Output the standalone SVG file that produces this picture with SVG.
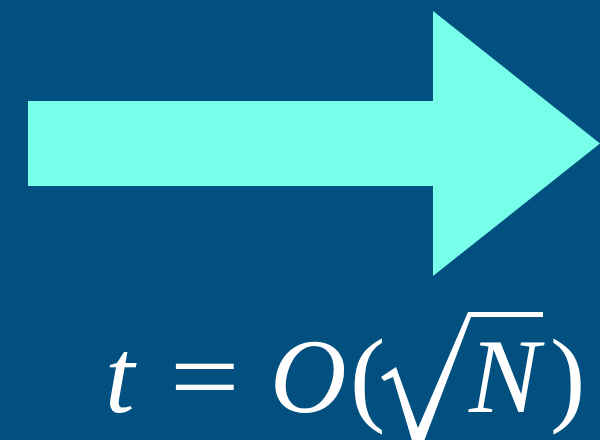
<svg xmlns="http://www.w3.org/2000/svg" width="600" height="440" viewBox="0 0 600 440">
<rect width="600" height="440" fill="#02507F"/>
<g id="arrow">
<polygon points="28,101 433,101 433,11 600,143.5 433,276 433,186 28,186" fill="#77FFEA"/>
</g>
<g id="formula" font-family="Liberation Serif, serif" font-size="106" fill="#ffffff">
<text font-style="italic" x="105" y="412">t</text>
<text x="-2" y="412" transform="translate(172 0) scale(1.17 1)">=</text>
<text font-style="italic" x="270" y="412">O</text>
<text x="350" y="412">(</text>
<polygon points="381,377 396,367 418,428 468,312 543,312 543,317 471,317 423,444 413,444 393,377 384,381" fill="#ffffff"/>
<text font-style="italic" x="469" y="412">N</text>
<text x="550" y="412">)</text>
</g>
</svg>
